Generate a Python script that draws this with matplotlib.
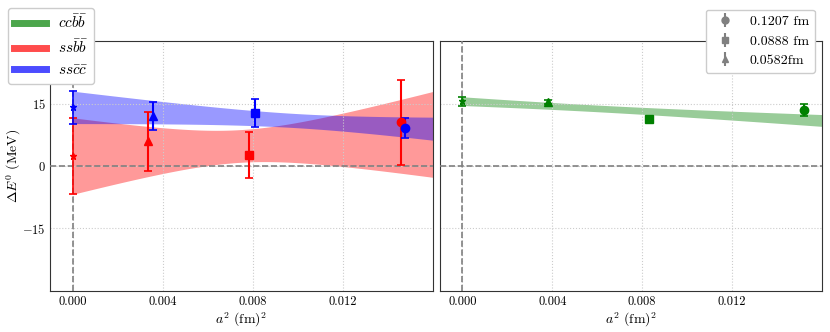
import numpy as np
import matplotlib
matplotlib.use("Agg")
import matplotlib.pyplot as plt
from matplotlib.lines import Line2D

plt.rcParams['font.family'] = ['serif']
plt.rcParams['font.serif'] = ['cmr10', 'DejaVu Serif']
plt.rcParams['mathtext.fontset'] = 'cm'
plt.rcParams['axes.formatter.use_mathtext'] = True

# ---- data ----
spacing_labels = ["0.1207 fm", "0.0888 fm", "0.0582fm"]
markers = ["o", "s", "^"]

ssbb_x = [0.01457, 0.00785, 0.00335]
ssbb_y = [10.5, 2.7, 5.9]
ssbb_err = [10.2, 5.5, 7.1]

sscc_x = [0.01476, 0.00811, 0.00357]
sscc_y = [9.2, 12.8, 12.1]
sscc_err = [2.4, 3.3, 3.4]

ccbb_x = [0.0152, 0.0083, 0.0038]
ccbb_y = [13.4, 11.2, 15.4]
ccbb_err = [1.4, 0.6, 0.5]

# continuum extrapolations (value, error)
ssbb_0 = (2.4, 9.2)
sscc_0 = (14.1, 3.9)
ccbb_0 = (15.6, 1.1)

# fit parameters: intercept, slope, sigma_intercept, sigma_slope, correlation
ssbb_fit = (2.4, 325.0, 9.2, 1116.0, -0.904)
sscc_fit = (14.1, -320.0, 3.9, 356.0, -0.90)
ccbb_fit = (15.6, -290.0, 1.05, 115.7, -0.646)

red, blue, green = "red", "blue", "green"

fig = plt.figure(figsize=(8.3, 3.32), dpi=100)
ax1 = fig.add_axes([0.0606, 0.1244, 0.4607, 0.7512])
ax2 = fig.add_axes([0.5301, 0.1244, 0.4599, 0.7512], sharey=ax1)

xg = np.linspace(0, 0.016, 200)


def band(ax, fit, color):
    c, m, sc, sm, r = fit
    y = c + m * xg
    s = np.sqrt(sc**2 + (xg * sm)**2 + 2 * xg * r * sc * sm)
    ax.fill_between(xg, y - s, y + s, color=color, alpha=0.4, lw=0)


def points(ax, xs, ys, es, zero, color):
    for x, y, e, mk in zip(xs, ys, es, markers):
        ax.errorbar(x, y, yerr=e, fmt=mk, color=color, ms=6, capsize=3,
                    elinewidth=1.5, capthick=1.2, zorder=5)
    ax.errorbar(0, zero[0], yerr=zero[1], fmt='*', color=color, ms=5,
                capsize=3, elinewidth=1.2, capthick=1.2, zorder=5)


band(ax1, ssbb_fit, red)
band(ax1, sscc_fit, blue)
points(ax1, ssbb_x, ssbb_y, ssbb_err, ssbb_0, red)
points(ax1, sscc_x, sscc_y, sscc_err, sscc_0, blue)

band(ax2, ccbb_fit, green)
points(ax2, ccbb_x, ccbb_y, ccbb_err, ccbb_0, green)

for ax in (ax1, ax2):
    ax.axhline(0, color='gray', ls='--', lw=1.2, zorder=3)
    ax.axvline(0, color='gray', ls='--', lw=1.2, zorder=3)
    ax.set_xlim(-0.001, 0.016)
    ax.set_ylim(-30, 30)
    ax.set_xticks([0.0, 0.004, 0.008, 0.012])
    ax.set_xticklabels(["0.000", "0.004", "0.008", "0.012"])
    ax.set_yticks([-15, 0, 15])
    ax.grid(True, ls=':', color='#cccccc', lw=0.8)
    ax.tick_params(direction='in', labelsize=9, length=0)
    ax.set_xlabel(r"$a^2$ (fm)$^2$", fontsize=10, labelpad=2)
    for sp in ax.spines.values():
        sp.set_color('#333333')

ax2.tick_params(labelleft=False)
ax1.set_ylabel(r"$\Delta E^{\mathbf{0}}$ (MeV)", fontsize=10)
ax1.yaxis.set_label_coords(-0.072, 0.5)

# left (figure) legend
handles = [Line2D([], [], color=green, alpha=0.7, lw=5),
           Line2D([], [], color=red, alpha=0.7, lw=5),
           Line2D([], [], color=blue, alpha=0.7, lw=5)]
labels = [r"$cc\bar{b}\bar{b}$", r"$ss\bar{b}\bar{b}$", r"$ss\bar{c}\bar{c}$"]
fig.legend(handles, labels, loc='upper left', bbox_to_anchor=(0.0, 1.0),
           fontsize=11, handlelength=2.1, framealpha=1, edgecolor='#cccccc',
           borderaxespad=0.5)

# right legend
lh = []
for mk in markers:
    h = ax2.errorbar([], [], yerr=[], fmt=mk, color='gray', ms=5, capsize=3)
    lh.append(h)
ax2.legend(lh, spacing_labels, loc='upper right', bbox_to_anchor=(1.0, 1.155),
           fontsize=10, framealpha=1, edgecolor='#cccccc')

fig.savefig("out.png", dpi=100)
